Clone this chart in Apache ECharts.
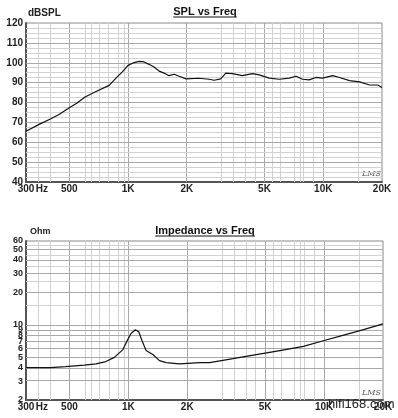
<!DOCTYPE html>
<html>
<head>
<meta charset="utf-8">
<script src="https://cdn.jsdelivr.net/npm/echarts@6/dist/echarts.min.js"></script>
<style>
html, body { margin: 0; padding: 0; background: #fff; }
#chart { width: 398px; height: 418px; }
</style>
</head>
<body>
<div id="chart"></div>
<script>
// SPL curve (Hz / dB)
var splFreq = [300, 350, 400, 443, 500, 548, 602, 694, 800, 878, 932, 1000, 1073, 1139, 1208, 1281, 1359, 1442, 1530, 1623, 1721, 1826, 1983, 2300, 2603, 2762, 2985, 3168, 3427, 3851, 4340, 4700, 5290, 5950, 6700, 7250, 7840, 8470, 9160, 9910, 11190, 12120, 13640, 15350, 17270, 19040, 20000];
var splDb = [65.5, 69.0, 71.7, 74.0, 77.4, 79.8, 82.8, 85.8, 88.6, 92.8, 95.3, 98.7, 100.1, 100.7, 100.4, 99.2, 97.9, 95.8, 94.8, 93.5, 94.2, 93.2, 91.9, 92.2, 91.7, 91.2, 91.9, 94.8, 94.5, 93.5, 94.5, 93.9, 92.3, 91.7, 92.3, 93.2, 91.7, 91.4, 92.6, 92.3, 93.5, 92.6, 91.0, 90.4, 88.8, 88.8, 87.5];

// impedance curve (Hz / Ohm)
var impFreq = [300, 400, 478, 595, 683, 768, 848, 935, 990, 1032, 1086, 1130, 1175, 1232, 1334, 1442, 1560, 1826, 2312, 2603, 3427, 4500, 5950, 7840, 9910, 12600, 15900, 20000];
var impOhm = [4.0, 4.0, 4.08, 4.22, 4.33, 4.55, 4.98, 5.84, 7.2, 8.3, 9.0, 8.6, 7.1, 5.76, 5.3, 4.64, 4.45, 4.33, 4.45, 4.45, 4.84, 5.28, 5.76, 6.29, 7.1, 8.0, 9.0, 10.2];

// axis labels
var freqLabels = [300, 500, 1000, 2000, 5000, 10000, 20000];
var hzPos = 362;
var ohmLabels = [2, 3, 4, 5, 6, 7, 8, 9, 10, 20, 30, 40, 50, 60];

// grid lines
var freqGrid = [350, 400, 600, 650, 700, 800, 900, 950, 3000, 3500, 4000, 4500, 5500, 6000, 7000, 7500, 8000, 9000, 15000];
var freqGridMajor = [500, 1000, 2000, 5000, 10000];
var splGrid = [42.5, 45, 47.5, 52.5, 55, 57.5, 62.5, 65, 67.5, 72.5, 75, 77.5, 82.5, 85, 87.5, 92.5, 95, 97.5, 102.5, 105, 107.5, 112.5, 115, 117.5];
var splGridMajor = [50, 60, 70, 80, 90, 100, 110];
var ohmGrid = [15, 25, 35, 45, 55];
var ohmGridMajor = [3, 4, 5, 6, 7, 8, 9, 10, 20, 30, 40, 50];

var lg = Math.log10;
var lightLine = '#d2d2d2';
var darkLine = '#a8a8a8';
var labelFont = { fontFamily: 'Liberation Sans', fontWeight: 'bold', fontSize: 10, color: '#222' };

function freqText(v) {
    var f = Math.pow(10, v);
    if (Math.abs(f - hzPos) < 2) return 'Hz';
    f = Math.round(f);
    return f >= 1000 ? (f / 1000) + 'K' : String(f);
}

function vLines(list, color) {
    return list.map(function (f) {
        return { xAxis: lg(f), lineStyle: { color: color, width: 1, type: 'solid' } };
    });
}
function hLines(list, color, useLog) {
    return list.map(function (v) {
        return { yAxis: useLog ? lg(v) : v, lineStyle: { color: color, width: 1, type: 'solid' } };
    });
}

function measure(text, font) {
    var ctx = document.createElement('canvas').getContext('2d');
    ctx.font = font;
    return ctx.measureText(text).width;
}

var splData = splFreq.map(function (f, i) { return [lg(f), splDb[i]]; });
var impData = impFreq.map(function (f, i) { return [lg(f), lg(impOhm[i])]; });

// echarts drops the label next to the max one when they touch,
// so the crowded 40 goes last in the list
var ohmLabelOrder = ohmLabels.filter(function (v) { return v !== 40; }).concat([40]);

var titleFont = 'bold 11px "Liberation Sans"';
var titles = [
    { text: 'SPL vs Freq', y: 12 },
    { text: 'Impedance vs Freq', y: 231 }
];
var graphics = [];
titles.forEach(function (t) {
    var w = measure(t.text, titleFont);
    graphics.push({
        type: 'text', left: 205 - w / 2, top: t.y - 6,
        style: { text: t.text, font: titleFont, fill: '#111' }
    });
    graphics.push({
        type: 'line',
        shape: { x1: 205 - w / 2, y1: t.y + 5, x2: 205 + w / 2, y2: t.y + 5 },
        style: { stroke: '#111', lineWidth: 1 }
    });
});
graphics.push({ type: 'text', left: 362, top: 170, style: { text: 'LMS', font: 'italic 8px "DejaVu Serif"', fill: '#555' } });
graphics.push({ type: 'text', left: 362, top: 389, style: { text: 'LMS', font: 'italic 8px "DejaVu Serif"', fill: '#555' } });
graphics.push({ type: 'text', left: 328, top: 398, z: 100, style: { text: 'hifi168.com', font: '13px "Liberation Sans"', fill: '#222' } });

function xAxisFor(idx) {
    return {
        type: 'value', gridIndex: idx,
        min: lg(300), max: lg(20000),
        axisLine: { show: true, lineStyle: { color: '#555', width: 2 } },
        axisTick: { show: false },
        splitLine: { show: false },
        axisLabel: Object.assign({
            customValues: freqLabels.map(lg).concat([lg(hzPos)]),
            formatter: freqText,
            showMinLabel: true, showMaxLabel: true,
            margin: 2
        }, labelFont)
    };
}

var option = {
    animation: false,
    backgroundColor: '#fff',
    grid: [
        { left: 26, top: 23, width: 356, height: 159, show: true, borderColor: '#888', borderWidth: 1 },
        { left: 26, top: 241, width: 357, height: 159, show: true, borderColor: '#888', borderWidth: 1 }
    ],
    xAxis: [xAxisFor(0), xAxisFor(1)],
    yAxis: [
        {
            type: 'value', gridIndex: 0, min: 40, max: 120, interval: 10,
            name: 'dBSPL', nameLocation: 'end', nameGap: 3,
            nameTextStyle: Object.assign({ align: 'left', padding: [0, 0, 0, 2] }, labelFont),
            axisLine: { show: true, lineStyle: { color: '#555', width: 2 } },
            axisTick: { show: false },
            splitLine: { show: false },
            axisLabel: Object.assign({ margin: 3, showMinLabel: true, showMaxLabel: true }, labelFont)
        },
        {
            type: 'value', gridIndex: 1, min: lg(2), max: lg(60),
            name: 'Ohm', nameLocation: 'end', nameGap: 5,
            nameTextStyle: Object.assign({ align: 'left', padding: [0, 0, 0, 4] }, labelFont, { fontSize: 9 }),
            axisLine: { show: true, lineStyle: { color: '#555', width: 2 } },
            axisTick: { show: false },
            splitLine: { show: false },
            axisLabel: Object.assign({
                margin: 3,
                showMinLabel: true, showMaxLabel: true,
                customValues: ohmLabelOrder.map(lg),
                formatter: function (v) { return String(Math.round(Math.pow(10, v))); }
            }, labelFont, { fontSize: 9, lineHeight: 7 })
        }
    ],
    graphic: graphics,
    series: [
        {
            type: 'line', xAxisIndex: 0, yAxisIndex: 0,
            data: splData, showSymbol: false, z: 3,
            lineStyle: { color: '#111', width: 1.2 },
            markLine: {
                silent: true, symbol: ['none', 'none'], z: 1, animation: false,
                label: { show: false },
                data: vLines(freqGrid, lightLine).concat(vLines(freqGridMajor, darkLine),
                    hLines(splGrid, lightLine, false), hLines(splGridMajor, darkLine, false))
            }
        },
        {
            type: 'line', xAxisIndex: 1, yAxisIndex: 1,
            data: impData, showSymbol: false, z: 3,
            lineStyle: { color: '#111', width: 1.2 },
            markLine: {
                silent: true, symbol: ['none', 'none'], z: 1, animation: false,
                label: { show: false },
                data: vLines(freqGrid, lightLine).concat(vLines(freqGridMajor, darkLine),
                    hLines(ohmGrid, lightLine, true), hLines(ohmGridMajor, darkLine, true))
            }
        }
    ]
};

echarts.init(document.getElementById('chart')).setOption(option);
</script>
</body>
</html>
